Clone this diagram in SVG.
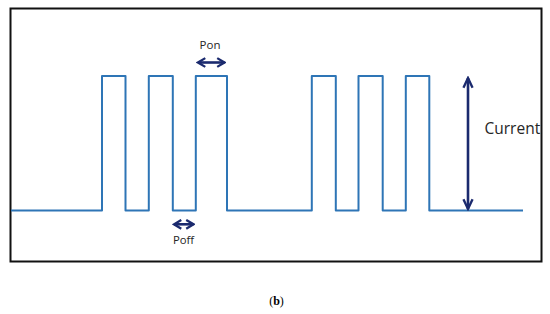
<svg xmlns="http://www.w3.org/2000/svg" width="550" height="314" viewBox="0 0 550 314">
<defs>
<style>
.wave{fill:none;stroke:#2e75b6;stroke-width:2;stroke-linejoin:round}
.arr{fill:none;stroke:#1b2a6e;stroke-width:2.6}
.lbl{font-family:"Open Sans","DejaVu Sans",sans-serif;fill:#262626}
</style>
<marker id="ah" viewBox="0 0 10 10" refX="8.5" refY="5" markerWidth="4" markerHeight="4" orient="auto-start-reverse" markerUnits="strokeWidth">
<path d="M1.5,0.8 L8.5,5 L1.5,9.2" fill="none" stroke="#1b2a6e" stroke-width="2.2"/>
</marker>
<marker id="ah2" viewBox="0 0 10 10" refX="8.5" refY="5" markerWidth="5" markerHeight="5" orient="auto-start-reverse" markerUnits="strokeWidth">
<path d="M1,1.5 L8.5,5 L1,8.5" fill="none" stroke="#1b2a6e" stroke-width="1.8"/>
</marker>
</defs>
<rect x="0" y="0" width="550" height="314" fill="#ffffff"/>
<rect id="frame" x="10.5" y="8.5" width="531" height="253" fill="none" stroke="#111111" stroke-width="2"/>
<g id="waveform">
<path class="wave" d="M11,210.5 H102 V76 H125.5 V210.5 H148.8 V76 H172.8 V210.5 H195.8 V76 H227 V210.5 H311.8 V76 H335.8 V210.5 H358.5 V76 H382.7 V210.5 H405.8 V76 H429.3 V210.5 H523"/>
</g>
<g id="connectors">
<line class="arr" x1="198" y1="62.5" x2="224.5" y2="62.5" marker-start="url(#ah)" marker-end="url(#ah)"/>
<line class="arr" x1="174" y1="224.3" x2="193.5" y2="224.3" marker-start="url(#ah)" marker-end="url(#ah)"/>
<line class="arr" x1="468" y1="78" x2="468" y2="209" stroke-width="1.8" marker-start="url(#ah2)" marker-end="url(#ah2)"/>
</g>
<g id="label-pon"><text class="lbl" x="210" y="49" font-size="11.5" text-anchor="middle">Pon</text></g>
<g id="label-poff"><text class="lbl" x="183.5" y="243.5" font-size="11.3" text-anchor="middle">Poff</text></g>
<g id="label-current"><text class="lbl" x="484.5" y="134" font-size="15.5">Current</text></g>
<text x="276.5" y="304.5" font-family="'Liberation Serif',serif" font-size="12" text-anchor="middle" fill="#000">(<tspan font-weight="bold">b</tspan>)</text>
</svg>
